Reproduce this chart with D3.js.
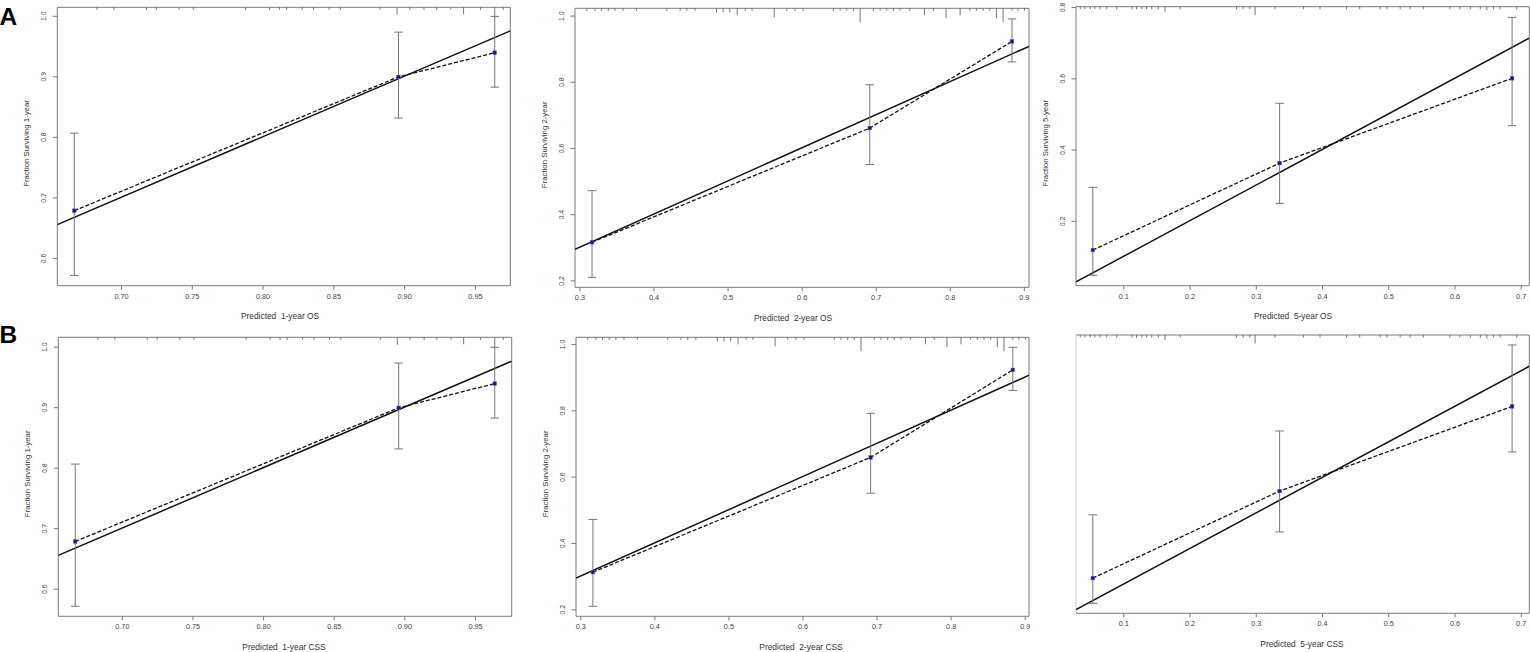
<!DOCTYPE html>
<html><head><meta charset="utf-8">
<script src="https://cdn.jsdelivr.net/npm/d3@7"></script>
<style>body{margin:0;background:#fff;} svg{display:block;font-family:"Liberation Sans",Arial,sans-serif;}</style>
</head><body><svg id="c" width="1530" height="652"></svg>
<script>
// ---------- data ----------
// OS
const predOS1 = [0.667, 0.896, 0.964];
const obsOS1  = [0.678, 0.899, 0.939];
const loOS1   = [0.571, 0.831, 0.882];
const hiOS1   = [0.806, 0.973, 0.999];
const predOS2 = [0.317, 0.692, 0.884];
const obsOS2  = [0.315, 0.660, 0.922];
const loOS2   = [0.209, 0.550, 0.860];
const hiOS2   = [0.471, 0.791, 0.990];
const predOS5 = [0.054, 0.336, 0.687];
const obsOS5  = [0.118, 0.362, 0.600];
const loOS5   = [0.047, 0.249, 0.467];
const hiOS5   = [0.294, 0.530, 0.771];
// CSS
const predCSS1 = [0.667, 0.896, 0.964];
const obsCSS1  = [0.678, 0.899, 0.939];
const loCSS1   = [0.571, 0.831, 0.882];
const hiCSS1   = [0.806, 0.973, 0.999];
const predCSS2 = [0.317, 0.692, 0.884];
const obsCSS2  = [0.312, 0.658, 0.922];
const loCSS2   = [0.209, 0.550, 0.860];
const hiCSS2   = [0.471, 0.791, 0.990];
const predCSS5 = [0.054, 0.336, 0.687];
const obsCSS5  = [0.117, 0.362, 0.600];
const loCSS5   = [0.046, 0.247, 0.472];
const hiCSS5   = [0.295, 0.531, 0.773];
// rug (distribution of predicted values): positions and relative counts
const rug1x = [0.683,0.695,0.718,0.725,0.741,0.751,0.788,0.805,0.812,0.817,0.828,0.836,0.847,0.855,0.883,0.895,0.904,0.914,0.923,0.933,0.942,0.954,0.964,0.970];
const rug1n = [1,1,1,1,1,1,1,1,1,1,1,1,1,1,1,3,1,1,1,1,2.8,1,4.3,1];
const rug2x = [0.310,0.321,0.330,0.339,0.348,0.359,0.377,0.418,0.436,0.445,0.456,0.485,0.494,0.503,0.513,0.524,0.533,0.563,0.580,0.591,0.602,0.643,0.652,0.661,0.670,0.679,0.697,0.706,0.715,0.724,0.733,0.746,0.766,0.778,0.795,0.814,0.827,0.836,0.845,0.854,0.863,0.872,0.884,0.892,0.901];
const rug2n = [1,1,1,1,1,1,1,1,1,1,1,1.6,1.6,1.6,2.8,1,1,3.6,1,1,1,1,1,1,1,5.6,1,1,1,1,1,1,2.8,1,4,2.8,1,1,1,1,4,5.6,1,1,1];
const rug5x = [0.035,0.042,0.050,0.057,0.065,0.075,0.090,0.113,0.120,0.128,0.135,0.143,0.153,0.163,0.186,0.271,0.281,0.291,0.299,0.329,0.372,0.397,0.437,0.457,0.488,0.498,0.518,0.533,0.553,0.593,0.608,0.624,0.639,0.649,0.659,0.669,0.694];
const rug5n = [1,1,1,1,1,1,1,1,1,1,1,1,1,2,1,1,1,1,3.4,1,1,1,1,1,1,1,1,1,1,1,1,1,1,1.4,1,1,1];
// ticks and labels
const xTicks1 = [0.70,0.75,0.80,0.85,0.90,0.95];
const yTicks1 = [0.6,0.7,0.8,0.9,1.0];
const xTicks2 = [0.3,0.4,0.5,0.6,0.7,0.8,0.9];
const yTicks2 = [0.2,0.4,0.6,0.8,1.0];
const xTicks5 = [0.1,0.2,0.3,0.4,0.5,0.6,0.7];
const yTicks5 = [0.2,0.4,0.6,0.8];
const yTicks5css = [0.8];
const xTitles = ["Predicted  1-year OS","Predicted  2-year OS","Predicted  5-year OS","Predicted  1-year CSS","Predicted  2-year CSS","Predicted  5-year CSS"];
const yTitles = ["Fraction Surviving 1-year","Fraction Surviving 2-year","Fraction Surviving 5-year","Fraction Surviving 1-year","Fraction Surviving 2-year",""];
const panelLetters = ["A","B"];

// ---------- layout ----------
const panels = [
  {box:[57.3,7.3,510.3,285.7], xd:[0.655,0.975], yd:[0.554,1.014], p:predOS1,o:obsOS1,lo:loOS1,hi:hiOS1, rx:rug1x,rn:rug1n, xt:xTicks1,yt:yTicks1,xf:".2f", xl:xTitles[0], yl:yTitles[0], xlx:280, xly:315.5},
  {box:[575,8.3,1029,287.3], xd:[0.294,0.907], yd:[0.179,1.022], p:predOS2,o:obsOS2,lo:loOS2,hi:hiOS2, rx:rug2x,rn:rug2n, xt:xTicks2,yt:yTicks2,xf:".1f", xl:xTitles[1], yl:yTitles[1], xlx:793, xly:318},
  {box:[1076,6.7,1529.3,285.7], xd:[0.0286,0.713], yd:[0.018,0.801], p:predOS5,o:obsOS5,lo:loOS5,hi:hiOS5, rx:rug5x,rn:rug5n, xt:xTicks5,yt:yTicks5,xf:".1f", xl:xTitles[2], yl:yTitles[2], xlx:1293, xly:316},
  {box:[58.3,337.3,511.7,616.3], xd:[0.655,0.976], yd:[0.5544,1.0155], p:predCSS1,o:obsCSS1,lo:loCSS1,hi:hiCSS1, rx:rug1x,rn:rug1n, xt:xTicks1,yt:yTicks1,xf:".2f", xl:xTitles[3], yl:yTitles[3], xlx:284, xly:647},
  {box:[576,337.3,1029,616.3], xd:[0.2942,0.9058], yd:[0.1789,1.0202], p:predCSS2,o:obsCSS2,lo:loCSS2,hi:hiCSS2, rx:rug2x,rn:rug2n, xt:xTicks2,yt:yTicks2,xf:".1f", xl:xTitles[4], yl:yTitles[4], xlx:801, xly:647},
  {box:[1076,335,1529.3,613.3], xd:[0.0286,0.713], yd:[0.018,0.801], p:predCSS5,o:obsCSS5,lo:loCSS5,hi:hiCSS5, rx:rug5x,rn:rug5n, xt:xTicks5,yt:yTicks5css,xf:".1f", xl:xTitles[5], yl:yTitles[5], xlx:1302, xly:644, lightLeft:true, clipTop:333}
];

const svg = d3.select("#c");
const defs = svg.append("defs");
const rugLen = d3.scaleLinear().domain([0,1]).range([0,2.5]);
const frame = "#7a7a7a";

panels.forEach((P,i)=>{
  const [x0,y0,x1,y1] = P.box;
  const x = d3.scaleLinear().domain(P.xd).range([x0,x1]);
  const y = d3.scaleLinear().domain(P.yd).range([y1,y0]);
  const g = svg.append("g");
  const cid = "clip"+i;
  defs.append("clipPath").attr("id",cid).append("rect").attr("x",x0).attr("y",y0).attr("width",x1-x0).attr("height",y1-y0);

  // x axis
  const xa = g.append("g").attr("transform",`translate(0,${y1})`)
    .call(d3.axisBottom(x).tickValues(P.xt).tickSize(4).tickPadding(4).tickFormat(d3.format(P.xf)));
  xa.select(".domain").remove();
  xa.selectAll("line").attr("stroke",frame);
  xa.selectAll("text").attr("font-size",7.3).attr("fill","#444").attr("font-family","Liberation Sans, Arial, sans-serif");

  // y axis
  const ya = g.append("g").attr("transform",`translate(${x0},0)`)
    .call(d3.axisLeft(y).tickValues(P.yt).tickSize(4.5).tickFormat(d3.format(".1f")));
  ya.select(".domain").remove();
  ya.selectAll("line").attr("stroke",frame);
  ya.selectAll("text").attr("font-size",6.9).attr("fill","#444").attr("font-family","Liberation Sans, Arial, sans-serif")
    .attr("text-anchor","middle").attr("dy",null).attr("x",null)
    .attr("transform","translate(-13.5,0) rotate(-90)").attr("dominant-baseline","central");
  if (P.clipTop){
    const cid2="cliplab"+i;
    defs.append("clipPath").attr("id",cid2).append("rect").attr("x",x0-30).attr("y",P.clipTop).attr("width",40).attr("height",50);
    ya.attr("clip-path",`url(#${cid2})`);
  }

  // frame
  g.append("line").attr("x1",x0).attr("x2",x1).attr("y1",y0).attr("y2",y0).attr("stroke",frame);
  g.append("line").attr("x1",x0).attr("x2",x1).attr("y1",y1).attr("y2",y1).attr("stroke",frame);
  g.append("line").attr("x1",x1).attr("x2",x1).attr("y1",y0).attr("y2",y1).attr("stroke",frame);
  g.append("line").attr("x1",x0).attr("x2",x0).attr("y1",y0).attr("y2",y1).attr("stroke",P.lightLeft?"#cfcfcf":frame);

  // rug
  g.selectAll(".rug").data(P.rx.map((v,k)=>[v,P.rn[k]])).join("line")
    .attr("x1",d=>x(d[0])).attr("x2",d=>x(d[0]))
    .attr("y1",y0).attr("y2",d=>y0+rugLen(d[1]))
    .attr("stroke","#555").attr("stroke-width",0.8);

  const plot = g.append("g").attr("clip-path",`url(#${cid})`);
  // ideal line
  plot.append("line")
    .attr("x1",x(P.xd[0])).attr("y1",y(P.xd[0]))
    .attr("x2",x(P.xd[1])).attr("y2",y(P.xd[1]))
    .attr("stroke","#111").attr("stroke-width",1.5);

  // error bars
  const pts = P.p.map((v,k)=>({x:v,y:P.o[k],lo:P.lo[k],hi:P.hi[k]}));
  const eb = g.selectAll(".eb").data(pts).join("g").attr("stroke","#777").attr("stroke-width",1);
  eb.append("line").attr("x1",d=>x(d.x)).attr("x2",d=>x(d.x)).attr("y1",d=>y(d.lo)).attr("y2",d=>y(d.hi));
  eb.append("line").attr("x1",d=>x(d.x)-4.3).attr("x2",d=>x(d.x)+4.3).attr("y1",d=>y(d.lo)).attr("y2",d=>y(d.lo));
  eb.append("line").attr("x1",d=>x(d.x)-4.3).attr("x2",d=>x(d.x)+4.3).attr("y1",d=>y(d.hi)).attr("y2",d=>y(d.hi));

  // dashed calibration line
  g.append("path").datum(pts)
    .attr("d",d3.line().x(d=>x(d.x)).y(d=>y(d.y)))
    .attr("fill","none").attr("stroke","#111").attr("stroke-width",1.3).attr("stroke-dasharray","4,2");

  // points
  g.selectAll(".pt").data(pts).join("rect")
    .attr("x",d=>x(d.x)-1.8).attr("y",d=>y(d.y)-1.8).attr("width",3.6).attr("height",3.6)
    .attr("fill","#1a1a6e").attr("stroke","#5b5bd6").attr("stroke-width",0.5);

  // titles
  g.append("text").attr("x",P.xlx).attr("y",P.xly).attr("text-anchor","middle").attr("dominant-baseline","central")
    .attr("font-size",8.4).attr("fill","#333").style("white-space","pre").text(P.xl);
  if (P.yl) g.append("text").attr("transform",`translate(${x0-30.5},${(y0+y1)/2-3}) rotate(-90)`)
    .attr("text-anchor","middle").attr("dominant-baseline","central")
    .attr("font-size",7.8).attr("fill","#333").text(P.yl);
});

// panel letters
svg.selectAll(".letter").data(panelLetters).join("text")
  .attr("x",-0.5).attr("y",(d,k)=>k===0?25:342.5)
  .attr("font-size",24.5).attr("font-weight","bold").attr("fill","#000")
  .attr("font-family","Liberation Sans, Arial, sans-serif").text(d=>d);
</script></body></html>
